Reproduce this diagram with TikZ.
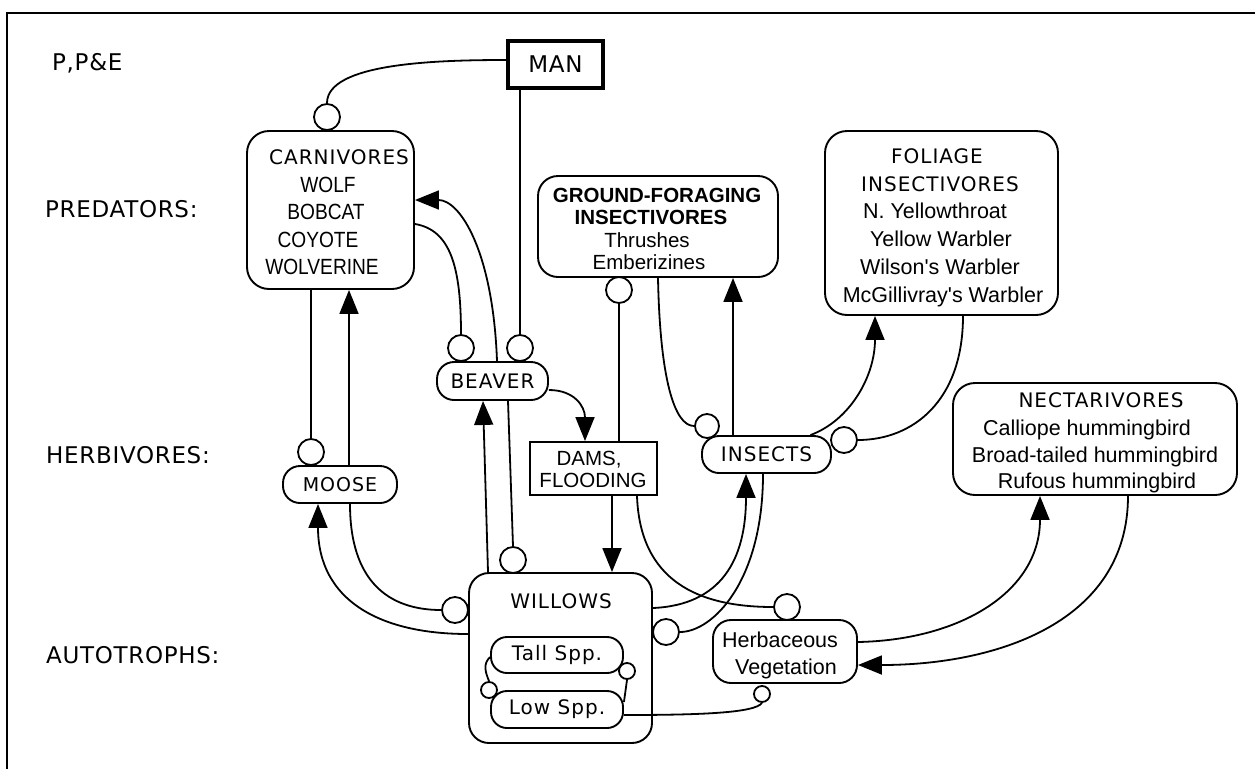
\documentclass[tikz,border=0pt]{standalone}
\usepackage{fontspec}
\usetikzlibrary{arrows.meta}
\newfontfamily\gen[LetterSpace=5]{DejaVu Sans}
\newfontfamily\genh[LetterSpace=3]{DejaVu Sans}
\newfontfamily\hel{Liberation Sans}
\newfontfamily\heln[FakeStretch=0.87]{Liberation Sans}
\begin{document}
\begin{tikzpicture}[x=1pt,y=-1pt,
  box/.style={draw, line width=1.9pt, inner sep=0pt, rounded corners=20pt},
  pill/.style={draw, line width=1.9pt, inner sep=0pt, rounded corners=16pt},
  sq/.style={draw, line width=1.9pt, inner sep=0pt},
  circ/.style={draw, circle, line width=1.8pt, fill=white, inner sep=0pt, minimum size=26pt},
  scirc/.style={circ, minimum size=16pt},
  link/.style={line width=1.8pt},
  arr/.style={link, -{Triangle[length=24pt,width=19pt]}},
  lab/.style={anchor=base, inner sep=0pt},
  head/.style={lab, font=\genh\fontsize{23}{26}\selectfont},
  gl/.style={lab, font=\gen\fontsize{20}{22}\selectfont},
  gfont/.style={font=\gen\fontsize{20}{22}\selectfont},
  hl/.style={lab, font=\hel\fontsize{21.5}{24}\selectfont},
  hn/.style={lab, font=\heln\fontsize{22}{24}\selectfont},
  hs/.style={lab, font=\hel\fontsize{20.5}{24}\selectfont},
  hb/.style={lab, font=\hel\bfseries\fontsize{20.5}{24}\selectfont}
]
\useasboundingbox (0,0) rectangle (1255,769);
% frame
\coordinate (ftr) at (1255,13);
\coordinate (ftl) at (7,13);
\coordinate (fbl) at (7,769);
\draw[line width=2.2pt] (ftr) -- (ftl) -- (fbl);

% row labels
\node[head, anchor=base west] (tppe) at (52,70) {P,P\&E};
\node[head, anchor=base west] (tpred) at (45,217) {PREDATORS:};
\node[head, anchor=base west] (therb) at (46,463) {HERBIVORES:};
\node[head, anchor=base west] (tauto) at (46,663) {AUTOTROPHS:};

% boxes
\node[sq, line width=3.8pt, minimum width=95pt, minimum height=47pt, font=\genh\fontsize{23}{26}\selectfont] (man) at (555.5,64.5) {MAN};
\node[box, rounded corners=22pt, minimum width=167pt, minimum height=158pt] (carn) at (330.5,210) {};
\node[box, minimum width=240pt, minimum height=101pt] (gf) at (658,226.5) {};
\node[box, rounded corners=22pt, minimum width=233pt, minimum height=184pt] (fol) at (941.5,223) {};
\node[box, rounded corners=22pt, minimum width=284pt, minimum height=112pt] (nect) at (1095,439) {};
\node[pill, rounded corners=17pt, minimum width=111pt, minimum height=38pt, gfont] (beaver) at (492.5,381) {BEAVER};
\node[pill, rounded corners=17pt, minimum width=114pt, minimum height=37pt, font=\gen\fontsize{19}{22}\selectfont] (moose) at (340,484.5) {MOOSE};
\node[sq, minimum width=127pt, minimum height=53pt] (dams) at (593.5,468.5) {};
\node[pill, rounded corners=17pt, minimum width=129pt, minimum height=37pt, gfont] (insects) at (766.5,454.5) {INSECTS};
\node[box, minimum width=183pt, minimum height=170pt] (willows) at (560.5,658) {};
\node[pill, minimum width=132pt, minimum height=36pt, gfont] (tall) at (557,655) {Tall Spp.};
\node[pill, minimum width=132pt, minimum height=37pt, gfont] (low) at (557,709.5) {Low Spp.};
\node[box, rounded corners=18pt, minimum width=144pt, minimum height=63pt] (herb) at (785,651.5) {};

% texts in boxes
\node[gl] (carn0) at (339,164) {CARNIVORES};
\node[hn] (carn1) at (328,192) {WOLF};
\node[hn] (carn2) at (326,219) {BOBCAT};
\node[hn] (carn3) at (318,247) {COYOTE};
\node[hn] (carn4) at (322,274) {WOLVERINE};

\node[hb] (gf0) at (657,202) {GROUND-FORAGING};
\node[hb] (gf1) at (651,224) {INSECTIVORES};
\node[hs] (gf2) at (647,247) {Thrushes};
\node[hs] (gf3) at (649,269) {Emberizines};

\node[gl] (fol0) at (937,163) {FOLIAGE};
\node[gl] (fol1) at (940,191) {INSECTIVORES};
\node[hl] (fol2) at (935,218) {N. Yellowthroat};
\node[hl] (fol3) at (941,246) {Yellow Warbler};
\node[hl] (fol4) at (940,274) {Wilson's Warbler};
\node[hl] (fol5) at (943,302) {McGillivray's Warbler};

\node[gl] (nect0) at (1101,407) {NECTARIVORES};
\node[hl] (nect1) at (1087,435) {Calliope hummingbird};
\node[hl] (nect2) at (1095,462) {Broad-tailed hummingbird};
\node[hl] (nect3) at (1097,488) {Rufous hummingbird};

\node[hs] (dams0) at (589,465) {DAMS,};
\node[hs] (dams1) at (593,487) {FLOODING};

\node[gl] (will0) at (561,608) {WILLOWS};

\node[hl] (herb0) at (780,647) {Herbaceous};
\node[hl] (herb1) at (786,674) {Vegetation};

% circles
\node[circ] (cmc) at (327,117) {};
\node[circ] (cmb) at (520,348) {};
\node[circ] (ccb) at (461,348) {};
\node[circ] (ccm) at (311,452) {};
\node[circ] (cmw) at (455,610) {};
\node[circ] (cbw) at (513,560) {};
\node[circ] (cgd) at (619,290) {};
\node[circ, minimum size=24pt] (cgi) at (707,426) {};
\node[circ] (cfi) at (844,440) {};
\node[circ] (ciw) at (666,632) {};
\node[circ] (cdh) at (787,607) {};
\node[scirc] (clh) at (762,694) {};
\node[scirc] (ctr) at (627,671) {};
\node[scirc] (ctl) at (489,690) {};

% connectors
\draw[link] (cmc.north) .. controls +(0,-40) and +(-70,0) .. ([yshift=4.5pt]man.west);
\draw[link] (man.south -| cmb.north) -- (cmb.north);
\draw[arr] ([xshift=4.5pt]beaver.north) .. controls +(-4,-110) and +(45,0) .. ([yshift=10pt]carn.east);
\draw[link] ([yshift=-14pt]carn.east) .. controls +(36,6) and +(0,-66) .. (ccb.north);
\draw[link] ([xshift=-19.5pt]carn.south) -- (ccm.north);
\draw[arr] ([xshift=9pt]moose.north) -- ([xshift=9pt]moose.north |- carn.south);
\draw[arr] ([yshift=24pt]willows.west) .. controls +(-89,0) and +(0,96) .. ([xshift=-22pt]moose.south);
\draw[link] ([xshift=10pt]moose.south) .. controls +(0,77) and +(-53,0) .. (cmw.west);
\draw[arr] ([xshift=-72.5pt]willows.north) -- ([xshift=-9.5pt]beaver.south);
\draw[link] ([xshift=15.5pt]beaver.south) -- (cbw.north);
\draw[arr] ([yshift=-9pt]beaver.east) .. controls +(25,0) and +(0,-35) .. ([xshift=-8.5pt]dams.north);
\draw[arr] ([xshift=18.5pt]dams.south) -- ([xshift=18.5pt]dams.south |- willows.north);
\draw[link] (cgd.south) -- (cgd.south |- dams.north);
\draw[link] (gf.south) .. controls +(2,100) and +(-20,0) .. (cgi.west);
\draw[arr] ([xshift=-33.5pt]insects.north) -- ([xshift=-33.5pt]insects.north |- gf.south);
\draw[arr] ([xshift=44pt]insects.north) .. controls +(40,-15) and +(0,60) .. ([xshift=-66.5pt]fol.south);
\draw[link] ([xshift=21.5pt]fol.south) .. controls +(0,85) and +(55,0) .. (cfi.east);
\draw[arr] ([yshift=50pt]willows.east) .. controls +(68,-3) and +(0,86) .. ([xshift=-20.5pt]insects.south);
\draw[link] ([xshift=-3.5pt]insects.south) .. controls +(0,107) and +(33,0) .. (ciw.east);
\draw[link] ([xshift=43.5pt]dams.south) .. controls +(3,85) and +(-75,0) .. (cdh.west);
\draw[arr] ([yshift=9.5pt]herb.east) .. controls +(102,-2) and +(0,96) .. ([xshift=-55pt]nect.south);
\draw[arr] ([xshift=33pt]nect.south) .. controls +(0,125) and +(141,0) .. ([yshift=-13.5pt]herb.east);
\draw[link] ([yshift=-5.5pt]low.east) .. controls +(77,0) and +(-7,10) .. (clh.south);
\draw[link] ([yshift=-2pt]tall.west) .. controls +(-7,7) and +(-4,-10) .. (ctl.north);
\draw[link] ([yshift=7.5pt]low.east) -- (ctr.south);
\end{tikzpicture}
\end{document}
